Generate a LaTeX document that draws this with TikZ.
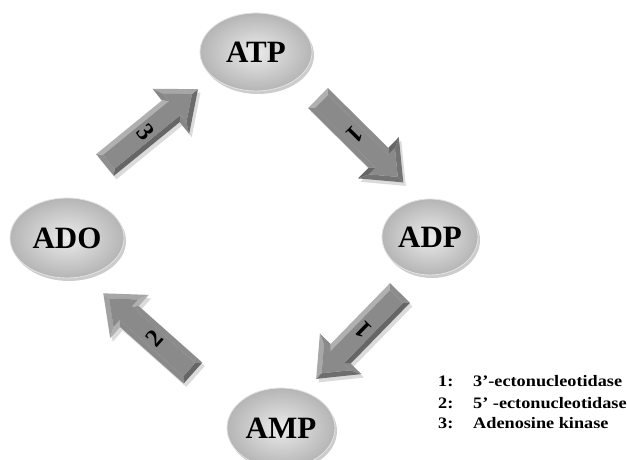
\documentclass[tikz,border=0pt]{standalone}
\usepackage{fontspec}
\setmainfont{Liberation Serif}
\newfontfamily\legfont[FakeStretch=1.14]{Liberation Serif}
\usetikzlibrary{shapes.geometric,shadows}
\newcommand\arrfacet[5]{%
  \pgfmathtruncatemacro\arrfc{46-15*cos(\arrang+#5-135)}%
  \fill[black!\arrfc] #1 -- #2 -- #3 -- #4 -- cycle;}
\newcommand\blockarrow[3]{%
  \def\arrang{#2}%
  \begin{scope}[shift={(#1)}]
    \begin{scope}[shift={(2.5,-3.5)},rotate=#2]
      \fill[black,opacity=.14] (0,-14) -- (85,-14) -- (85,-29) -- (120,0) -- (85,29) -- (85,14) -- (0,14) -- cycle;
    \end{scope}
    \begin{scope}[rotate=#2]
      \arrfacet{(0,-14)}{(85,-14)}{(90,-9)}{(5,-9)}{-90}
      \arrfacet{(85,-14)}{(85,-29)}{(90,-18.4)}{(90,-9)}{0}
      \arrfacet{(85,-29)}{(120,0)}{(112.2,0)}{(90,-18.4)}{-50.4}
      \arrfacet{(120,0)}{(85,29)}{(90,18.4)}{(112.2,0)}{50.4}
      \arrfacet{(85,29)}{(85,14)}{(90,9)}{(90,18.4)}{0}
      \arrfacet{(85,14)}{(0,14)}{(5,9)}{(90,9)}{90}
      \arrfacet{(0,14)}{(0,-14)}{(5,-9)}{(5,9)}{180}
      \fill[black!46] (5,-9) -- (90,-9) -- (90,-18.4) -- (112.2,0) -- (90,18.4) -- (90,9) -- (5,9) -- cycle;
      \node[arrlabel] (l#1) at (52,0) {#3};
    \end{scope}
  \end{scope}}
\begin{document}
\begin{tikzpicture}[x=1pt,y=1pt,
  ell/.style={ellipse, inner sep=0, shading=radial, inner color=gray!16, outer color=gray!58,
    draw=gray!22, line width=0.8,
    drop shadow={shadow xshift=2pt, shadow yshift=-3pt, opacity=.2, fill=black},
    font=\fontsize{31}{31}\selectfont\bfseries},
  arrlabel/.style={transform shape, rotate=-90, inner sep=0, font=\fontsize{25}{25}\selectfont\bfseries},
  leg/.style={anchor=base west, inner sep=0, font=\legfont\fontsize{16}{16}\selectfont\bfseries}]
\useasboundingbox (0,0) rectangle (627,460);
\clip (0,0) rectangle (627,460);
\fill[white] (0,0) rectangle (627,460);

\node[ell, minimum width=112, minimum height=78] (atp) at (256,408) {ATP};
\node[ell, minimum width=96, minimum height=76] (adp) at (430,223) {ADP};
\node[ell, minimum width=114, minimum height=80] (ado) at (67,222) {ADO};
\node[ell, minimum width=108, minimum height=80] (amp) at (281,32) {AMP};

\coordinate (a3) at (105,295);
\coordinate (a1) at (318,362);
\coordinate (a4) at (400,167);
\coordinate (a2) at (193,87);

\blockarrow{a3}{39.2}{3}
\blockarrow{a1}{-44.7}{1}
\blockarrow{a4}{-134.3}{1}
\blockarrow{a2}{138.4}{2}

\node[leg] (n1) at (438,73.3) {1:};
\node[leg] (t1) at (473,73.3) {3’-ectonucleotidase};
\node[leg] (n2) at (438,51.7) {2:};
\node[leg] (t2) at (473,51.7) {5’ -ectonucleotidase};
\node[leg] (n3) at (438,31.7) {3:};
\node[leg] (t3) at (473,31.7) {Adenosine kinase};
\end{tikzpicture}
\end{document}
